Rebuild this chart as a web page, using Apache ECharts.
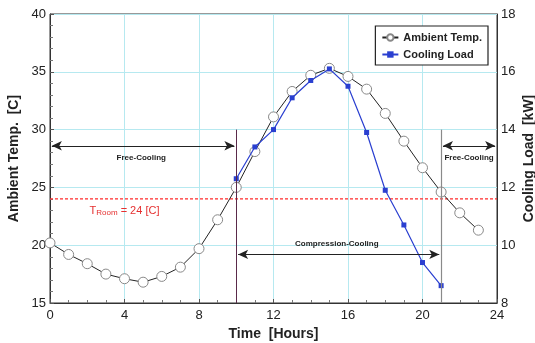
<!DOCTYPE html>
<html>
<head>
<meta charset="utf-8">
<script src="https://cdn.jsdelivr.net/npm/echarts@6/dist/echarts.min.js"></script>
<style>
  html, body { margin: 0; padding: 0; background: #fff; }
  #chart { width: 535px; height: 343px; }
</style>
</head>
<body>
<div id="chart"></div>
<script>
const hours = [0, 1, 2, 3, 4, 5, 6, 7, 8, 9, 10, 11, 12, 13, 14, 15, 16, 17, 18, 19, 20, 21, 22, 23];
const ambientTemp = [20.2, 19.2, 18.4, 17.5, 17.1, 16.8, 17.3, 18.1, 19.7, 22.2, 25.0, 28.1,
  31.1, 33.3, 34.7, 35.3, 34.6, 33.5, 31.4, 29.0, 26.7, 24.6, 22.8, 21.3];
const coolingLoad = [null, null, null, null, null, null, null, null, null, null, 12.3, 13.4,
  14.0, 15.1, 15.7, 16.1, 15.5, 13.9, 11.9, 10.7, 9.4, 8.6, null, null];

const tRoom = 24;
const freeEnd = 10;
const freeStart = 21;

const font = 'Liberation Sans, Arial, sans-serif';
const chart = echarts.init(document.getElementById('chart'));

const textLabel = (txt, x, y) => ({
  coord: [x, y], value: txt, symbol: 'rect', symbolSize: 0,
  label: { show: true, formatter: txt, color: '#222', fontSize: 8, fontWeight: 'bold', fontFamily: font }
});

// helper: empty series that only carries a markLine with its own style
const lineHelper = (color, type, width, segs, sym) => ({
  type: 'line', yAxisIndex: 0, data: [], silent: true, z: 2,
  markLine: {
    silent: true, animation: false,
    symbol: sym || 'none', symbolSize: [7, 10],
    label: { show: false },
    lineStyle: { color: color, type: type, width: width },
    data: segs.map(s => [{ coord: s[0] }, { coord: s[1] }])
  }
});

chart.setOption({
  animation: false,
  textStyle: { fontFamily: font },
  grid: {
    left: 50, right: 38, top: 14, bottom: 40, outerBoundsMode: 'none', containLabel: false,
    show: true, borderColor: '#333', borderWidth: 1
  },
  legend: {
    right: 47, top: 26, orient: 'vertical',
    backgroundColor: '#fff',
    borderColor: '#222', borderWidth: 1.2, borderRadius: 0,
    padding: [6, 6, 5, 6], itemGap: 6, itemWidth: 16, itemHeight: 8,
    textStyle: { fontSize: 11, fontWeight: 'bold', color: '#222', fontFamily: font },
    data: ['Ambient Temp.', 'Cooling Load']
  },
  xAxis: {
    type: 'value', min: 0, max: 24, interval: 4,
    name: 'Time  [Hours]', nameLocation: 'middle', nameGap: 24,
    nameTextStyle: { fontSize: 14, fontWeight: 'bold', color: '#222' },
    axisLine: { show: true, lineStyle: { color: '#333' } },
    axisTick: { show: true, inside: true, length: 4, lineStyle: { color: '#555' } },
    minorTick: { show: true, splitNumber: 4, length: 3, lineStyle: { color: '#777' } },
    axisLabel: { fontSize: 13, color: '#222', margin: 6 },
    splitLine: { show: true, lineStyle: { color: '#b6e9f0', width: 1 } }
  },
  yAxis: [{
    type: 'value', min: 15, max: 40, interval: 5,
    name: 'Ambient Temp.  [C]', nameLocation: 'middle', nameGap: 29, nameMoveOverlap: false,
    nameTextStyle: { fontSize: 14, fontWeight: 'bold', color: '#222' },
    axisLine: { show: true, lineStyle: { color: '#333' } },
    axisTick: { show: true, inside: true, length: 4, lineStyle: { color: '#555' } },
    minorTick: { show: true, splitNumber: 5, length: 3, lineStyle: { color: '#777' } },
    axisLabel: { fontSize: 13, color: '#222', margin: 4 },
    splitLine: { show: true, lineStyle: { color: '#b6e9f0', width: 1 } }
  }, {
    type: 'value', min: 8, max: 18, interval: 2, position: 'right',
    name: 'Cooling Load  [kW]', nameLocation: 'middle', nameGap: 25, nameMoveOverlap: false,
    nameTextStyle: { fontSize: 14, fontWeight: 'bold', color: '#222' },
    axisLine: { show: true, lineStyle: { color: '#333' } },
    axisTick: { show: false },
    axisLabel: { fontSize: 13, color: '#222', margin: 4 },
    splitLine: { show: false }
  }],
  series: [
    {
      type: 'line', yAxisIndex: 0, silent: true, z: 2,
      data: [[0, tRoom], [24, tRoom]],
      symbol: 'none',
      lineStyle: { color: '#ff2a2a', type: [3, 2], width: 1.3 }
    },
    lineHelper('#5a2a4a', 'solid', 1, [[[freeEnd, 30], [freeEnd, 15]]]),
    lineHelper('#8a8a8a', 'solid', 1.2, [[[freeStart, 30], [freeStart, 15]]]),
    lineHelper('#222', 'solid', 1.2, [
      [[0.1, 28.6], [9.9, 28.6]],
      [[21.1, 28.6], [23.9, 28.6]],
      [[10.1, 19.2], [20.9, 19.2]]
    ], 'arrow'),
    {
      name: 'Ambient Temp.', type: 'line', yAxisIndex: 0,
      data: hours.map((h, i) => [h, ambientTemp[i]]),
      symbol: 'circle', symbolSize: 10,
      lineStyle: { color: '#222', width: 1 },
      itemStyle: { color: '#fff', borderColor: '#888', borderWidth: 1 },
      z: 3,
      markPoint: {
        silent: true, animation: false,
        data: [
          textLabel('Free-Cooling', 4.9, 27.6),
          textLabel('Free-Cooling', 22.5, 27.6),
          textLabel('Compression-Cooling', 15.4, 20.1),
          {
            coord: [4, 23.0], symbol: 'rect', symbolSize: 0,
            label: {
              show: true, formatter: '{a|T}{b|Room}{a| = 24 [C]}',
              rich: {
                a: { color: '#e53030', fontSize: 11, fontFamily: font },
                b: { color: '#e53030', fontSize: 8, fontFamily: font, verticalAlign: 'bottom', padding: [5, 0, 0, 0] }
              }
            }
          }
        ]
      }
    }, {
      name: 'Cooling Load', type: 'line', yAxisIndex: 1,
      data: hours.map((h, i) => [h, coolingLoad[i]]),
      symbol: 'rect', symbolSize: 5,
      lineStyle: { color: '#2a3fd0', width: 1.2 },
      itemStyle: { color: '#2a3fd0' },
      z: 4
    }
  ]
});
</script>
</body>
</html>
